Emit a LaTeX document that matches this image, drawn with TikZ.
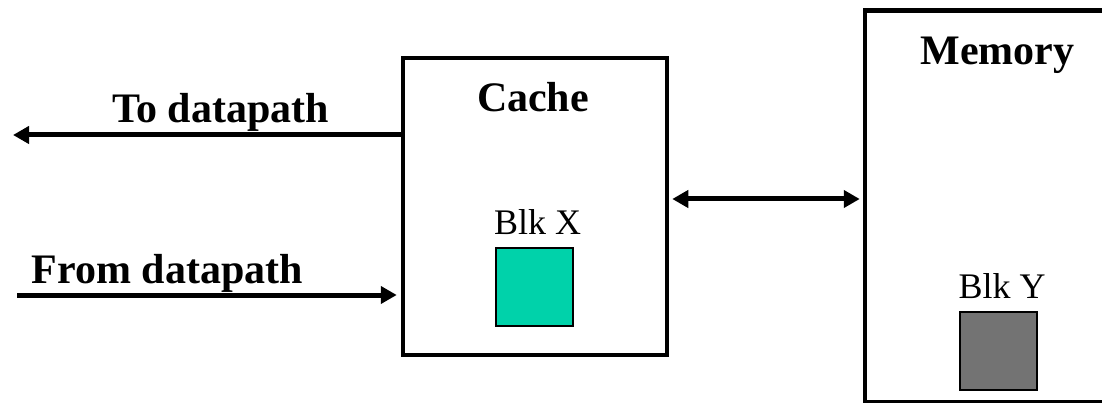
\documentclass[tikz,border=0pt]{standalone}
\usepackage{fontspec}
\setmainfont{Liberation Serif}
\usetikzlibrary{arrows.meta}

\definecolor{blkgreen}{HTML}{00D2AA}
\definecolor{blkgray}{HTML}{737373}

\tikzset{
  unit/.style={draw=black, line width=4.5pt, minimum width=#1},
  title/.style={font=\fontsize{42}{50}\selectfont\bfseries, anchor=base, inner sep=0pt},
  blklabel/.style={font=\fontsize{36}{42}\selectfont, anchor=base, inner sep=0pt},
  blk/.style={draw=black, line width=2.5pt, fill=#1, minimum width=77pt, minimum height=78pt, inner sep=0pt},
  arr/.style={line width=5pt, -{Triangle[length=16pt, width=17pt]}},
  biarr/.style={line width=5pt, {Triangle[length=16pt, width=17pt]}-{Triangle[length=16pt, width=17pt]}}
}

\begin{document}
\begin{tikzpicture}[x=1pt, y=-1pt]
  \useasboundingbox[fill=white] (0,0) rectangle (1102,403);
  \clip (0,0) rectangle (1102,403);

  % cache and main memory (memory runs past the right and lower edges)
  \node[unit=264pt, minimum height=297pt] (cache) at (535,206.5) {};
  \node[unit=265pt, minimum height=391.5pt] (mem) at (997.5,206.25) {};

  \node[title] (cachet) at (533,112) {Cache};
  \node[title] (memt) at (997.5,65) {Memory};

  % blocks held in each level
  \node[blklabel] (blkxt) at (537.5,235) {Blk X};
  \node[blk=blkgreen] (blkx) at (534.5,287) {};
  \node[blklabel] (blkyt) at (1002,298) {Blk Y};
  \node[blk=blkgray] (blky) at (998.5,351) {};

  % datapath connections
  \coordinate (todp) at (13,135);
  \coordinate (fromdp) at (17,295);
  \draw[arr] (cache.west |- todp) -- (todp);
  \draw[arr, shorten >=4pt] (fromdp) -- (cache.west |- fromdp);
  \node[title] (todpt) at (220.5,123) {To datapath};
  \node[title] (fromdpt) at (167.5,283) {From datapath};

  % cache <-> memory transfer
  \coordinate (xfer) at (760,199);
  \draw[biarr, shorten <=3pt, shorten >=3pt] (cache.east |- xfer) -- (mem.west |- xfer);
\end{tikzpicture}
\end{document}
